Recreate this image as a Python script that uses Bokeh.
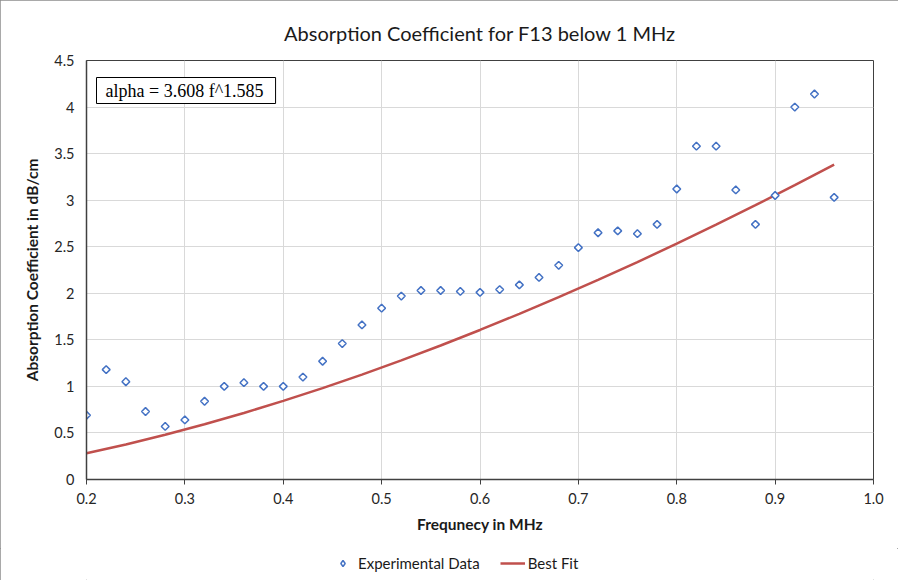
import math
from bokeh.plotting import figure
from bokeh.layouts import column
from bokeh.models import Label, Legend, LegendItem, FixedTicker
from bokeh.embed import file_html
from bokeh.resources import INLINE

# ---- data ----
freq = [0.20, 0.22, 0.24, 0.26, 0.28, 0.30, 0.32, 0.34, 0.36, 0.38,
        0.40, 0.42, 0.44, 0.46, 0.48, 0.50, 0.52, 0.54, 0.56, 0.58,
        0.60, 0.62, 0.64, 0.66, 0.68, 0.70, 0.72, 0.74, 0.76, 0.78,
        0.80, 0.82, 0.84, 0.86, 0.88, 0.90, 0.92, 0.94, 0.96]
alpha_exp = [0.69, 1.18, 1.05, 0.73, 0.57, 0.64, 0.84, 1.00, 1.04, 1.00,
             1.00, 1.10, 1.27, 1.46, 1.66, 1.84, 1.97, 2.03, 2.03, 2.02,
             2.01, 2.04, 2.09, 2.17, 2.30, 2.49, 2.65, 2.67, 2.64, 2.74,
             3.12, 3.58, 3.58, 3.11, 2.74, 3.05, 4.00, 4.14, 3.03]

fit_freq = [0.20, 0.24, 0.28, 0.32, 0.36, 0.40, 0.44, 0.48, 0.52, 0.56,
            0.60, 0.64, 0.68, 0.72, 0.76, 0.80, 0.84, 0.88, 0.92, 0.96]
fit_alpha = [0.281, 0.376, 0.480, 0.593, 0.714, 0.844, 0.982, 1.127, 1.280, 1.439,
             1.606, 1.779, 1.958, 2.144, 2.335, 2.533, 2.737, 2.946, 3.161, 3.382]

x_ticks = [0.2, 0.3, 0.4, 0.5, 0.6, 0.7, 0.8, 0.9, 1.0]
x_tick_labels = ["0.2", "0.3", "0.4", "0.5", "0.6", "0.7", "0.8", "0.9", "1.0"]
y_ticks = [0, 0.5, 1, 1.5, 2, 2.5, 3, 3.5, 4, 4.5]
y_tick_labels = ["0", "0.5", "1", "1.5", "2", "2.5", "3", "3.5", "4", "4.5"]

title_text = "Absorption Coefficient for F13 below 1 MHz"
x_label = "Frequnecy in MHz"
y_label = "Absorption Coefficient in dB/cm"
equation_text = "alpha = 3.608 f^1.585"
series_names = ["Experimental Data", "Best Fit"]

FONT = "Lato"
BLUE = "#4472C4"
RED = "#C0504D"

p = figure(width=898, height=548, output_backend="svg", toolbar_location=None,
           x_range=(0.2, 1.0), y_range=(0, 4.5),
           min_border_left=86, min_border_right=25, min_border_top=60, min_border_bottom=69)

p.title.text = title_text
p.title.align = "center"
p.title.text_font = FONT
p.title.text_font_size = "20px"
p.title.text_font_style = "normal"
p.title.text_color = "#1a1a1a"
p.title.standoff = 31

p.outline_line_color = "#404040"
p.outline_line_width = 1

for ax in (p.xaxis[0], p.yaxis[0]):
    ax.axis_line_color = "#404040"
    ax.axis_line_width = 1.5
    ax.minor_tick_line_color = None
    ax.major_label_text_font = FONT
    ax.major_label_text_font_size = "14.5px"
    ax.major_label_text_color = "#262626"
    ax.axis_label_text_font = FONT
    ax.axis_label_text_font_size = "15.5px"
    ax.axis_label_text_font_style = "bold"
    ax.axis_label_text_color = "#1a1a1a"

p.xaxis.ticker = FixedTicker(ticks=x_ticks)
p.xaxis.major_label_overrides = dict(zip(x_ticks, x_tick_labels))
p.xaxis.major_tick_out = 5
p.xaxis.major_tick_in = 0
p.xaxis.major_tick_line_color = "#404040"
p.xaxis.major_label_standoff = 8
p.xaxis.axis_label = x_label
p.xaxis.axis_label_standoff = 8

p.yaxis.ticker = FixedTicker(ticks=y_ticks)
p.yaxis.major_label_overrides = dict(zip(y_ticks, y_tick_labels))
p.yaxis.major_tick_out = 0
p.yaxis.major_tick_in = 0
p.yaxis.major_label_standoff = 12
p.yaxis.axis_label = y_label
p.yaxis.axis_label_standoff = 10

p.xgrid.grid_line_color = "#d9d9d9"
p.ygrid.grid_line_color = "#d9d9d9"
p.xgrid.ticker = FixedTicker(ticks=x_ticks)
p.ygrid.ticker = FixedTicker(ticks=y_ticks)

line_style = dict(line_color=RED, line_width=2.5)
marker_style = dict(marker="square", angle=math.pi / 4, size=5.5, line_color=BLUE,
                    fill_color="white", line_width=1.5)

p.line(fit_freq, fit_alpha, **line_style)
p.scatter(freq, alpha_exp, **marker_style)

eq = Label(x=10, y=389, x_units="screen", y_units="screen", text=equation_text,
           text_font="Liberation Serif", text_font_size="18px", text_color="black",
           text_align="left", text_baseline="middle",
           border_line_color="black", border_line_width=1,
           background_fill_color="white",
           padding=dict(left=9, right=12, top=3, bottom=3))
p.add_layout(eq)

# legend strip below the chart (its renderers repeat the series, kept out of view)
lg = figure(width=898, height=32, output_backend="svg", toolbar_location=None,
            x_range=(0, 1), y_range=(100, 101), min_border=0)
lg.xaxis.visible = False
lg.yaxis.visible = False
lg.xgrid.visible = False
lg.ygrid.visible = False
lg.outline_line_color = None
lg_ln = lg.line(fit_freq, fit_alpha, **line_style)
lg_sc = lg.scatter(freq, alpha_exp, marker="diamond", size=9, line_color=BLUE,
                   fill_color="white", line_width=1.5)

legend = Legend(items=[LegendItem(label=series_names[0], renderers=[lg_sc]),
                       LegendItem(label=series_names[1], renderers=[lg_ln])],
                orientation="horizontal", location=(244, 8),
                border_line_color=None, background_fill_alpha=0,
                label_text_font=FONT, label_text_font_size="15px",
                label_text_color="#1a1a1a",
                glyph_width=25, glyph_height=16, spacing=20, padding=0, margin=0,
                label_standoff=3)
lg.add_layout(legend)

layout = column(p, lg, spacing=0)
layout.styles = {"outline": "1px solid #8c8c8c", "outline-offset": "-1px"}

open("out.html", "w").write(file_html(layout, INLINE))
